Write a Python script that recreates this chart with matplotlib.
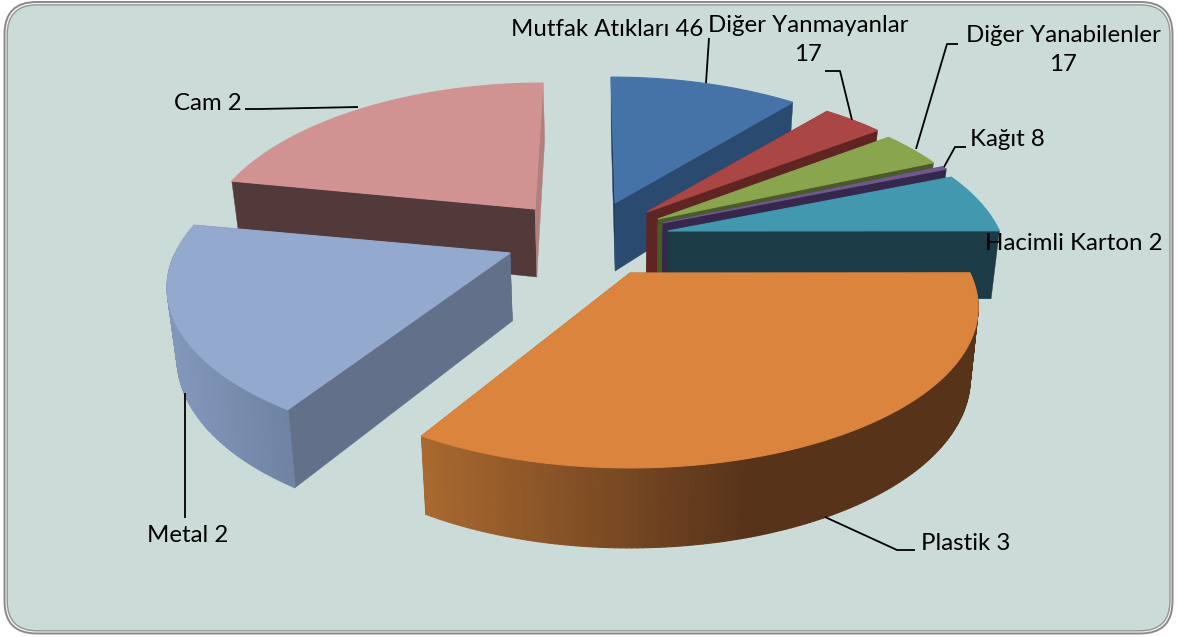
import numpy as np
import matplotlib
matplotlib.use("Agg")
import matplotlib.pyplot as plt
from matplotlib.patches import FancyBboxPatch, Polygon
from matplotlib.collections import PolyCollection
from matplotlib.colors import LinearSegmentedColormap

# ---- data ----
categories = ["Mutfak Atıkları", "Diğer Yanmayanlar", "Diğer Yanabilenler", "Kağıt",
              "Hacimli Karton", "Plastik", "Metal", "Cam"]
label_values = [46, 17, 17, 8, 2, 3, 2, 2]
# slice shares as they appear in the picture (percent)
slice_shares = [11.1, 3.6, 3.75, 0.33, 6.2, 34.17, 18.89, 21.96]

# ---- styles ----
top_colors = ["#4572a7", "#aa4643", "#89a54e", "#71588f", "#4198af", "#db843d", "#93a9ce", "#d19392"]
cut_colors = ["#2a4a70", "#5e2523", "#4b5a2a", "#35284c", "#1b3b47", "#54321a", "#637089", "#523a3a"]
start_cut_override = {0: "#1d3a5c"}
end_cut_override = {7: "#b07f7e"}
rim_stops = {5: (423, 750, ["#a9692f", "#57331a"]), 6: (170, 297, ["#8397bb", "#6d82a1"])}
apex = [(615, 203), (647, 212), (658, 219), (663, 223), (668, 231), (630, 273), (510, 253), (535, 209)]
x_scale = [0.965, 0.96, 0.96, 0.975, 0.975, 1.0, 0.985, 0.95]
back_skew = [-4, 0, 0, 0, 0, 0, 0, 8]
end_trim = [0, 0, 0, 0, 0, -3, 0, 0]  # degrees
draw_order = [7, 0, 1, 2, 3, 4, 6, 5]

KP, AY, BX, VX, QX = 0.215, 153.0, 340.0, 620.0, 0.978


def rim(th, i):
    s, c = np.sin(th), np.cos(th)
    p = 1 / (1 - KP * s)
    x = apex[i][0] + x_scale[i] * BX * c * p + back_skew[i] * np.maximum(0, -s)
    return x, apex[i][1] + AY * s * p, s


def lower(x, y, s):
    return VX + (x - VX) * QX, y + 68 + 12 * s


plt.rcParams["font.family"] = ["Lato", "DejaVu Sans"]
fig = plt.figure(figsize=(11.78, 6.37), dpi=100)
ax = fig.add_axes([0, 0, 1, 1])
ax.set_xlim(0, 1178)
ax.set_ylim(637, 0)
ax.axis("off")

ax.add_patch(FancyBboxPatch((4.5, 2), 1168, 631.5, boxstyle="round,pad=0,rounding_size=32",
                            fc="#f4f6f5", ec="#8a8a8a", lw=1.4))
ax.add_patch(FancyBboxPatch((7.2, 4.8), 1162.8, 626, boxstyle="round,pad=0,rounding_size=30",
                            fc="#cbdcd8", ec="#969696", lw=1.0))

edges = np.deg2rad(-90 + np.concatenate([[0], np.cumsum(slice_shares)]) * 3.6)

for i in draw_order:
    t0, t1 = edges[i], edges[i + 1] + np.deg2rad(end_trim[i])
    ths = np.linspace(t0, t1, 160)
    x, y, s = rim(ths, i)
    bx, by = lower(x, y, s)
    ax_, ay_ = apex[i]
    abx, aby = lower(ax_, ay_, 0)
    # radial cut faces
    for k, col in ((0, start_cut_override.get(i, cut_colors[i])),
                   (-1, end_cut_override.get(i, cut_colors[i]))):
        ax.add_patch(Polygon([(ax_, ay_), (x[k], y[k]), (bx[k], by[k]), (abx, aby)],
                             fc=col, ec=col, lw=0.3))
    # outer wall
    m = s > 0
    if m.sum() > 1:
        xs, ys, xb, yb = x[m], y[m], bx[m], by[m]
        quads = [[(xs[j], ys[j]), (xs[j + 1], ys[j + 1]), (xb[j + 1], yb[j + 1]), (xb[j], yb[j])]
                 for j in range(len(xs) - 1)]
        if i in rim_stops:
            a, b, cols = rim_stops[i]
            cm = LinearSegmentedColormap.from_list("w", cols)
            fc = [cm(np.clip((0.5 * (xs[j] + xs[j + 1]) - a) / (b - a), 0, 1)) for j in range(len(xs) - 1)]
        else:
            fc = [cut_colors[i]] * (len(xs) - 1)
        ax.add_collection(PolyCollection(quads, facecolors=fc, edgecolors=fc, linewidths=0.8))
    # top
    ax.add_patch(Polygon([(ax_, ay_)] + list(zip(x, y)), fc=top_colors[i], ec=top_colors[i], lw=0.8))

# ---- labels and leader lines ----
labels = [f"{c} {v}" for c, v in zip(categories, label_values)]
label_layout = [
    (511, 30, "left", labels[0]),
    (808, 40, "center", "Diğer Yanmayanlar\n17"),
    (1063, 50, "center", "Diğer Yanabilenler\n17"),
    (970, 140, "left", labels[3]),
    (985, 244, "left", labels[4]),
    (921, 544, "left", labels[5]),
    (147, 536, "left", labels[6]),
    (174, 103, "left", labels[7]),
]
for lx, ly, ha, txt in label_layout:
    ax.text(lx, ly, txt, ha=ha, va="center", fontsize=17.3, color="#000000", linespacing=1.43)

leaders = [
    [(706, 83), (709, 38)],
    [(852, 120), (840, 71), (825, 71)],
    [(916, 149), (947, 44), (958, 44)],
    [(944, 167), (955, 147), (966, 147)],
    [(825, 517), (897, 550), (915, 550)],
    [(185, 393), (185, 518)],
    [(358, 107), (260, 109), (245, 109)],
]
for pts in leaders:
    px, py = zip(*pts)
    ax.plot(px, py, color="black", lw=1.3, solid_capstyle="butt")

fig.savefig("out.png", dpi=100)
